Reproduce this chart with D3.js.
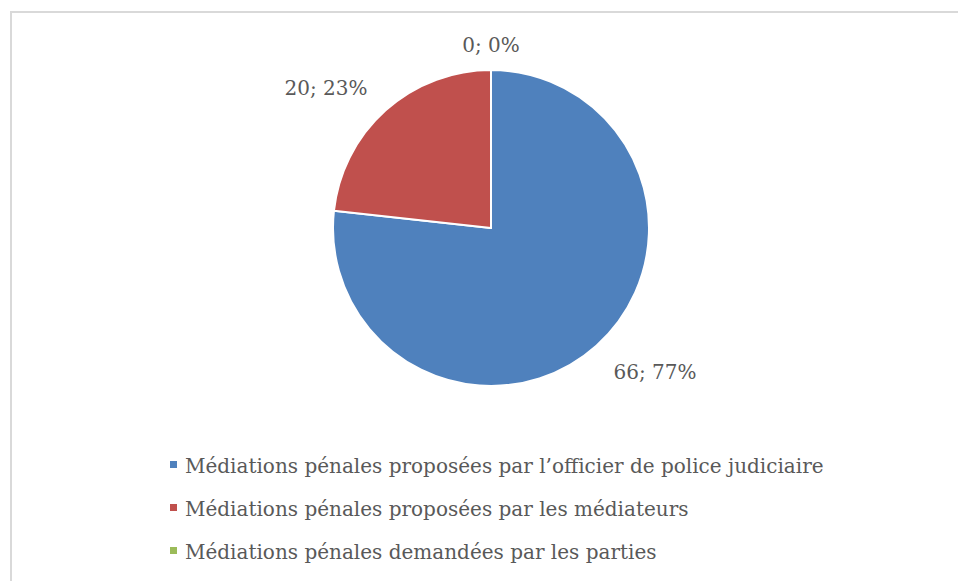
<!DOCTYPE html>
<meta charset="utf-8">
<style>
body { margin: 0; background: #fff; }
text {
  font-family: "DejaVu Serif", "Liberation Serif", serif;
  fill: #595959;
}
</style>
<svg width="958" height="581"></svg>
<script src="https://cdn.jsdelivr.net/npm/d3@7"></script>
<script>

var categories = [
  "Médiations pénales proposées par l\u2019officier de police judiciaire",
  "Médiations pénales proposées par les médiateurs",
  "Médiations pénales demandées par les parties"
];
var values = [66, 20, 0];
var colors = ["#4f81bd", "#c0504d", "#9bbb59"];

var svg = d3.select("svg"),
    cx = 491,
    cy = 228,
    radius = 158;

// chart frame
svg.append("rect")
    .attr("x", 11)
    .attr("y", 12)
    .attr("width", 960)
    .attr("height", 600)
    .attr("fill", "none")
    .attr("stroke", "#d9d9d9")
    .attr("stroke-width", 2);

var total = d3.sum(values);

var pie = d3.pie()
    .sort(null)
    .value(function(d) { return d; });

var arc = d3.arc()
    .innerRadius(0)
    .outerRadius(radius);

var arcs = pie(values);

var g = svg.append("g")
    .attr("transform", "translate(" + cx + "," + cy + ")");

g.selectAll("path.slice")
    .data(arcs)
    .enter().append("path")
    .attr("class", "slice")
    .attr("d", arc)
    .attr("fill", function(d, i) { return colors[i]; })
    .attr("stroke", "#fff")
    .attr("stroke-width", 2)
    .attr("stroke-linejoin", "round");

// outside-end labels
var labelR = radius + 12;
g.selectAll("text.lbl")
    .data(arcs)
    .enter().append("text")
    .attr("class", "lbl")
    .style("font-size", "20px")
    .each(function(d) {
        var a = (d.startAngle + d.endAngle) / 2,
            s = Math.sin(a),
            c = -Math.cos(a),
            px = labelR * s,
            py = labelR * c,
            anchor = Math.abs(s) < 0.2 ? "middle" : (s > 0 ? "start" : "end"),
            dy = c > 0 ? 24 : -6;
        d3.select(this)
            .attr("x", px + (anchor == "start" ? 9 : anchor == "end" ? -10 : 0))
            .attr("y", py + dy)
            .attr("text-anchor", anchor)
            .text(d.data + "; " + Math.round(d.data / total * 100) + "%");
    });

// legend
var legend = svg.selectAll(".legend")
    .data(categories)
    .enter().append("g")
    .attr("class", "legend")
    .attr("transform", function(d, i) {
        return "translate(170," + (473 + i * 43) + ")";
    });

legend.append("rect")
    .attr("x", 0)
    .attr("y", -12)
    .attr("width", 7)
    .attr("height", 7)
    .attr("fill", function(d, i) { return colors[i]; });

legend.append("text")
    .attr("x", 15)
    .attr("y", 0)
    .style("font-size", "20px")
    .text(function(d) { return d; });

</script>
